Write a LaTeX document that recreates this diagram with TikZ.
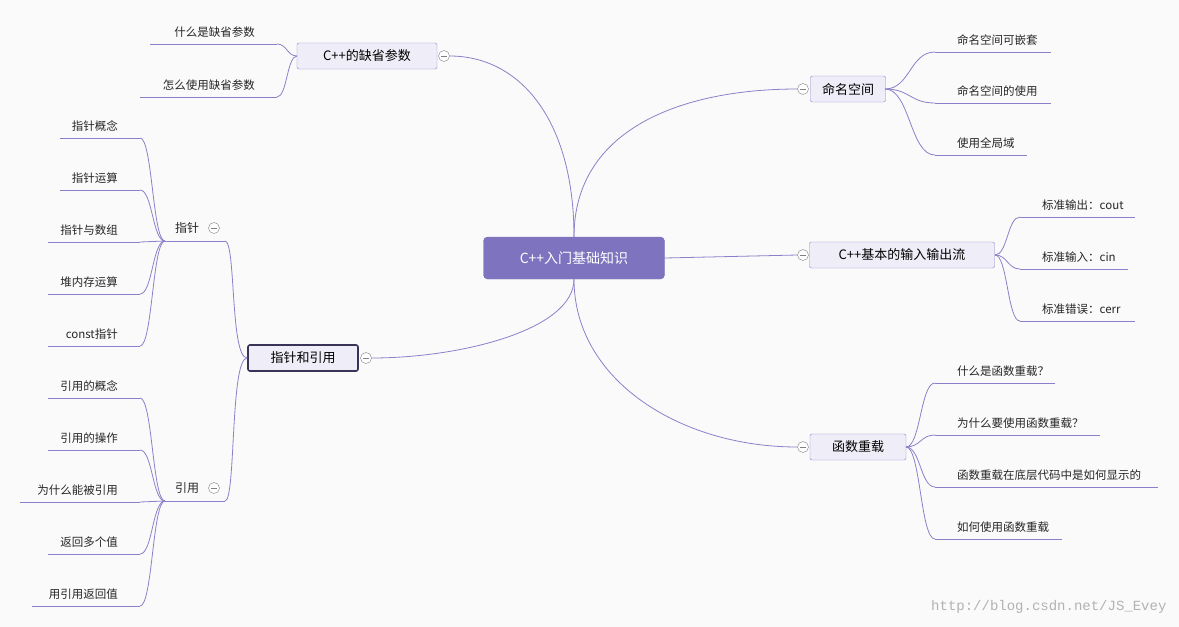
\documentclass[tikz,border=0pt]{standalone}
\usepackage{fontspec}
\setmainfont{Noto Sans CJK SC}
\newfontfamily\wmfont{Liberation Mono}
\definecolor{ln}{HTML}{8B80C9}
\definecolor{rootc}{HTML}{7D73BE}
\definecolor{boxf}{HTML}{EFEEF8}
\definecolor{dark}{HTML}{3A3358}
\newcommand{\rleaf}[7]{%
  \coordinate (#1a) at (#2,#4); \coordinate (#1b) at (#3,#4);
  \draw[conn] (#1a) -- (#1b);
  \node[leaf,anchor=south west] (#1) at (#2+22,#4-6) {#5};
  \draw[conn] (#6,#7) .. controls ({(#6+#2)/2},#7) and ({(#6+#2)/2},#4) .. (#1a);}
\newcommand{\lleaf}[7]{%
  \coordinate (#1a) at (#3,#4); \coordinate (#1b) at (#2,#4);
  \draw[conn] (#1a) -- (#1b);
  \node[leaf,anchor=south east] (#1) at (#3-22,#4-6) {#5};
  \draw[conn] (#6,#7) .. controls ({(#6+#3)/2},#7) and ({(#6+#3)/2},#4) .. (#1a);}
\begin{document}
\begin{tikzpicture}[x=1pt,y=-1pt,
  conn/.style={draw=ln,line width=0.8pt},
  rootbox/.style={fill=rootc,draw=rootc,rounded corners=4pt,minimum width=181pt,minimum height=42pt,text=white,font=\fontsize{14}{14}\selectfont},
  brbox/.style={fill=boxf,draw=ln,rounded corners=2pt,minimum height=26pt,inner xsep=6pt,font=\fontsize{13}{13}\selectfont},
  leaf/.style={font=\fontsize{11.5}{12}\selectfont,text=black!85,inner sep=0pt},
  col/.style={circle,draw=gray,fill=white,minimum size=11pt,inner sep=0pt,path picture={\draw[gray] ([xshift=-3pt]path picture bounding box.center)--([xshift=3pt]path picture bounding box.center);}}]
\fill[white!98!black] (0,0) rectangle (1179,627);
\useasboundingbox (0,0) rectangle (1179,627);
% root
\node[rootbox] (root) at (574,258) {C++入门基础知识};
% branches
\node[brbox,minimum width=75pt] (ns) at (848,89) {命名空间};
\node[brbox,minimum width=185pt] (io) at (902,255) {C++基本的输入输出流};
\node[brbox,minimum width=96pt] (ov) at (858,447) {函数重载};
\node[brbox,minimum width=140pt] (df) at (367,56) {C++的缺省参数};
\node[brbox,minimum width=110pt,draw=dark,line width=1.6pt] (pr) at (303,358) {指针和引用};
\node[col] (nsc) at (803,89) {};
\node[col] (ioc) at (803,255) {};
\node[col] (ovc) at (803,447) {};
\node[col] (dfc) at (444,56) {};
\node[col] (prc) at (366,358) {};
% root connectors
\draw[conn] (root.north) .. controls (574,130) and (680,89) .. (nsc.west);
\draw[conn] (root.east) -- (ioc.west);
\draw[conn] (root.south) .. controls (574,380) and (680,447) .. (ovc.west);
\draw[conn] (root.north) .. controls (574,120) and (520,56) .. (dfc.east);
\draw[conn] (root.south) .. controls (574,330) and (460,358) .. (prc.east);
\rleaf{n1}{935}{1051}{52}{命名空间可嵌套}{885}{89}
\rleaf{n2}{935}{1051}{103}{命名空间的使用}{885}{89}
\rleaf{n3}{935}{1027}{155}{使用全局域}{885}{89}
\rleaf{i1}{1020}{1135}{217}{标准输出：cout}{995}{255}
\rleaf{i2}{1020}{1128}{269}{标准输入：cin}{995}{255}
\rleaf{i3}{1020}{1135}{321}{标准错误：cerr}{995}{255}
\rleaf{o1}{935}{1055}{383}{什么是函数重载？}{906}{447}
\rleaf{o2}{935}{1100}{435}{为什么要使用函数重载？}{906}{447}
\rleaf{o3}{935}{1158}{487}{函数重载在底层代码中是如何显示的}{906}{447}
\rleaf{o4}{935}{1062}{539}{如何使用函数重载}{906}{447}
\lleaf{d1}{150}{277}{44}{什么是缺省参数}{297}{56}
\lleaf{d2}{140}{277}{97}{怎么使用缺省参数}{297}{56}
% sub-branches
\node[leaf,font=\fontsize{12}{12}\selectfont] (zz) at (187,228) {指针};
\node[col] (zzc) at (214,228) {};
\coordinate (zza) at (225,241); \coordinate (zzb) at (165,241);
\draw[conn] (zza) -- (zzb);
\draw[conn] (pr.west) .. controls (230,358) and (236,241) .. (zza);
\node[leaf,font=\fontsize{12}{12}\selectfont] (yy) at (187,488) {引用};
\node[col] (yyc) at (214,488) {};
\coordinate (yya) at (225,501); \coordinate (yyb) at (165,501);
\draw[conn] (yya) -- (yyb);
\draw[conn] (pr.west) .. controls (230,358) and (236,501) .. (yya);
\lleaf{z1}{60}{140}{138}{指针概念}{165}{241}
\lleaf{z2}{60}{140}{190}{指针运算}{165}{241}
\lleaf{z3}{48}{140}{242}{指针与数组}{165}{241}
\lleaf{z4}{48}{140}{294}{堆内存运算}{165}{241}
\lleaf{z5}{48}{140}{346}{const指针}{165}{241}
\lleaf{y1}{48}{140}{398}{引用的概念}{165}{501}
\lleaf{y2}{48}{140}{450}{引用的操作}{165}{501}
\lleaf{y3}{20}{140}{502}{为什么能被引用}{165}{501}
\lleaf{y4}{48}{140}{554}{返回多个值}{165}{501}
\lleaf{y5}{32}{140}{606}{用引用返回值}{165}{501}
\node[font=\wmfont\fontsize{14}{14}\selectfont,text=black!30,anchor=east] (wm) at (1170,607) {http://blog.csdn.net/JS\_Evey};
\end{tikzpicture}
\end{document}
